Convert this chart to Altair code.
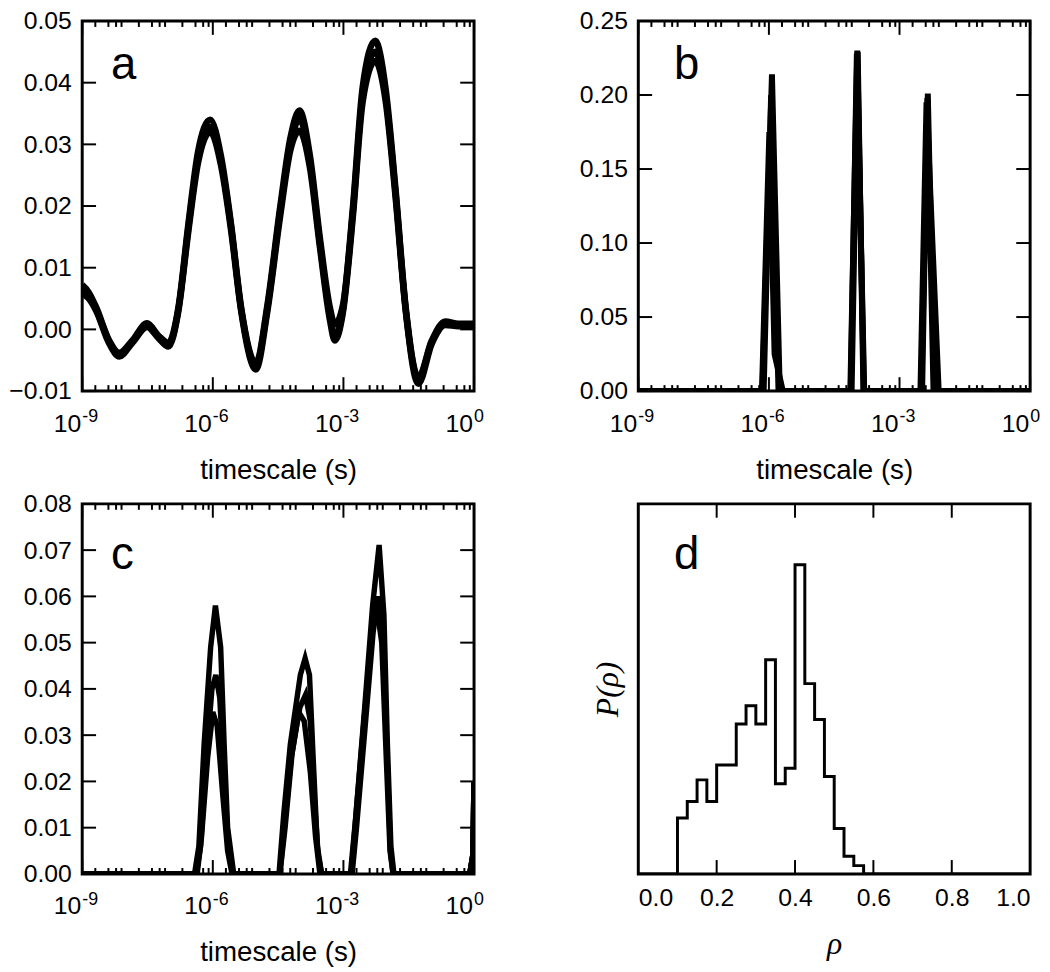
import altair as alt
import pandas as pd

FONT = "Liberation Sans"
SERIF = "Liberation Serif"
W, H = 396, 374

# ---------------- data ----------------
# panel a: three overlapping runs, x given as log10(timescale)
a_logt = [-9.0, -8.85, -8.68, -8.38, -8.15, -7.85, -7.51, -7.25, -7.02, -6.79,
          -6.56, -6.34, -6.06, -5.81, -5.58, -5.35, -5.01, -4.75, -4.45, -4.22,
          -4.01, -3.77, -3.54, -3.31, -3.20, -3.01, -2.78, -2.56, -2.27, -2.03,
          -1.80, -1.57, -1.28, -0.97, -0.66, -0.36, 0.0]
a_run1 = [0.0065, 0.0055, 0.0033, -0.0020, -0.0041, -0.0020, 0.0007, -0.0012, -0.0025, 0.0033,
          0.0166, 0.0278, 0.0328, 0.0272, 0.0166, 0.0033, -0.0059, 0.0033, 0.0193, 0.0299,
          0.0341, 0.0272, 0.0140, 0.0023, -0.0012, 0.0033, 0.0193, 0.0379, 0.0450, 0.0379,
          0.0219, 0.0033, -0.0081, -0.0020, 0.0010, 0.0007, 0.0007]
a_run2 = [0.0072, 0.0060, 0.0036, -0.0018, -0.0038, -0.0018, 0.0010, -0.0010, -0.0022, 0.0036,
          0.0172, 0.0288, 0.0340, 0.0280, 0.0170, 0.0036, -0.0055, 0.0038, 0.0200, 0.0310,
          0.0355, 0.0282, 0.0148, 0.0035, 0.0008, 0.0040, 0.0200, 0.0392, 0.0468, 0.0390,
          0.0225, 0.0036, -0.0078, -0.0018, 0.0013, 0.0009, 0.0009]
a_run3 = [0.0058, 0.0050, 0.0030, -0.0023, -0.0044, -0.0022, 0.0004, -0.0014, -0.0028, 0.0030,
          0.0160, 0.0270, 0.0320, 0.0265, 0.0160, 0.0030, -0.0065, 0.0028, 0.0185, 0.0290,
          0.0322, 0.0262, 0.0133, 0.0015, -0.0018, 0.0028, 0.0185, 0.0368, 0.0435, 0.0370,
          0.0212, 0.0030, -0.0088, -0.0023, 0.0007, 0.0005, 0.0005]

# panel b: narrow spikes
b1_logt = [-9.0, -6.15, -5.93, -5.75, -4.13, -3.97, -3.82, -2.50, -2.35, -2.20, 0.0]
b1_val = [0, 0, 0.214, 0, 0, 0.230, 0, 0, 0.201, 0, 0]
b2_logt = [-9.0, -6.16, -5.99, -5.87, -5.68, -4.12, -3.98, -3.81, -2.52, -2.38, -2.10, 0.0]
b2_val = [0, 0, 0.175, 0.025, 0, 0, 0.228, 0, 0, 0.195, 0, 0]
b3_logt = [-9.0, -6.12, -5.95, -5.78, -4.10, -3.96, -3.83, -2.48, -2.36, -2.22, 0.0]
b3_val = [0, 0, 0.200, 0, 0, 0.229, 0, 0, 0.198, 0, 0]

# panel c: three runs of peaks
c1_logt = [-9.0, -6.42, -6.32, -6.20, -6.05, -5.94, -5.82, -5.74, -5.66, -5.52,
           -4.48, -4.37, -4.22, -3.99, -3.88, -3.78, -3.69, -3.60, -3.50,
           -2.82, -2.71, -2.52, -2.33, -2.18, -2.07, -1.99, -1.91, -1.84,
           -0.10, -0.03, 0.0]
c1_val = [0, 0, 0.006, 0.028, 0.049, 0.058, 0.049, 0.028, 0.010, 0,
          0, 0.013, 0.028, 0.043, 0.0466, 0.043, 0.024, 0.006, 0,
          0, 0.013, 0.035, 0.058, 0.0711, 0.056, 0.028, 0.006, 0,
          0, 0.004, 0.020]
c2_logt = [-9.0, -6.38, -6.28, -6.15, -6.02, -5.93, -5.84, -5.74, -5.64, -5.54,
           -4.46, -4.36, -4.20, -4.00, -3.87, -3.76, -3.68, -3.58, -3.50,
           -2.80, -2.70, -2.50, -2.32, -2.21, -2.10, -2.00, -1.92, -1.86,
           -0.10, -0.03, 0.0]
c2_val = [0, 0, 0.006, 0.025, 0.040, 0.043, 0.038, 0.020, 0.006, 0,
          0, 0.010, 0.025, 0.036, 0.0387, 0.033, 0.018, 0.004, 0,
          0, 0.010, 0.032, 0.052, 0.060, 0.052, 0.026, 0.005, 0,
          0, 0.004, 0.020]
c3_logt = [-9.0, -6.36, -6.26, -6.12, -6.00, -5.90, -5.78, -5.66, -5.56,
           -4.46, -4.34, -4.18, -4.03, -3.90, -3.76, -3.64, -3.54,
           -2.84, -2.72, -2.52, -2.34, -2.24, -2.12, -2.02, -1.93, -1.86,
           -0.10, -0.03, 0.0]
c3_val = [0, 0, 0.008, 0.025, 0.035, 0.032, 0.018, 0.005, 0,
          0, 0.010, 0.026, 0.035, 0.033, 0.022, 0.008, 0,
          0, 0.012, 0.034, 0.052, 0.058, 0.050, 0.026, 0.005, 0,
          0, 0.004, 0.020]

# panel d: histogram P(rho), left bin edges (step-after)
d_rho = [0.0, 0.100, 0.125, 0.150, 0.175, 0.200, 0.225, 0.250, 0.275, 0.300, 0.325,
         0.350, 0.375, 0.400, 0.425, 0.450, 0.475, 0.500, 0.525, 0.550, 0.575, 1.0]
d_p = [0, 1.01, 1.31, 1.70, 1.31, 1.97, 1.97, 2.71, 3.04, 2.71, 3.87,
       1.63, 1.91, 5.59, 3.44, 2.79, 1.76, 0.82, 0.32, 0.15, 0, 0]

# tick labels
x_label_t = [1e-9, 1e-6, 1e-3, 1.0]
x_label_base = ["10", "10", "10", "10"]
x_label_exp = ["-9", "-6", "-3", "0"]
a_yticks = [-0.01, 0.0, 0.01, 0.02, 0.03, 0.04, 0.05]
b_yticks = [0.0, 0.05, 0.10, 0.15, 0.20, 0.25]
c_yticks = [0.0, 0.01, 0.02, 0.03, 0.04, 0.05, 0.06, 0.07, 0.08]
d_xticks = [0.0, 0.2, 0.4, 0.6, 0.8, 1.0]


def runs_frame(pairs):
    rows = []
    for name, logt, vals in pairs:
        for e, v in zip(logt, vals):
            rows.append({"run": name, "t": 10.0 ** e, "v": v})
    return pd.DataFrame(rows)


XS = alt.Scale(type="log", domain=[1e-9, 1.0], nice=False)
major_t = x_label_t
minor_t = [k * 10.0 ** n for n in range(-9, 0) for k in (2, 4, 6, 8)]
MAJ, MIN = 14, 6

X_AXIS_LOG = alt.Axis(
    title="timescale (s)", labels=False, ticks=False, domain=False, grid=False,
    titleFont=FONT, titleFontSize=28, titleFontWeight="normal", titleColor="black",
    titlePadding=88, titleBaseline="alphabetic")


def y_axis(vals):
    return alt.Axis(values=vals, format=".2f", title=None, ticks=False, domain=False,
                    grid=False, labelFont=FONT, labelFontSize=25, labelColor="black",
                    labelPadding=11)


def rule_x(values, length, scale, field, top, axis):
    df = pd.DataFrame({field: values})
    y0, y1 = (0, length) if top else (H, H - length)
    return alt.Chart(df).mark_rule(color="black", strokeWidth=2).encode(
        x=alt.X(f"{field}:Q", scale=scale, axis=axis),
        y=alt.value(y0), y2=alt.value(y1))


def rule_y(values, length, scale, field, right, axis):
    df = pd.DataFrame({field: values})
    x0, x1 = (W, W - length) if right else (0, length)
    return alt.Chart(df).mark_rule(color="black", strokeWidth=2).encode(
        y=alt.Y(f"{field}:Q", scale=scale, axis=axis),
        x=alt.value(x0), x2=alt.value(x1))


def letter(ch, yb):
    df = pd.DataFrame({"lab": [ch]})
    return alt.Chart(df).mark_text(font=FONT, fontSize=46, align="left",
                                   baseline="alphabetic", color="black").encode(
        x=alt.value(29 if ch in "ac" else 36), y=alt.value(yb), text="lab:N")


def log_panel(df, ydom, yticks, ch, yb, sw, interp):
    ys = alt.Scale(domain=ydom, nice=False, zero=False)
    ya = y_axis(yticks)
    lines = alt.Chart(df).mark_line(color="black", strokeWidth=sw, clip=True,
                                    interpolate=interp).encode(
        x=alt.X("t:Q", scale=XS, axis=X_AXIS_LOG),
        y=alt.Y("v:Q", scale=ys, axis=ya),
        detail="run:N")
    lab = pd.DataFrame({"t": x_label_t, "base": x_label_base, "ex": x_label_exp})
    base_txt = alt.Chart(lab).mark_text(font=FONT, fontSize=25, align="right",
                                        baseline="alphabetic", dx=-1, color="black").encode(
        x=alt.X("t:Q", scale=XS, axis=X_AXIS_LOG), y=alt.value(H + 41), text="base:N")
    exp_txt = alt.Chart(lab).mark_text(font=FONT, fontSize=18, align="left",
                                       baseline="alphabetic", dx=0, color="black").encode(
        x=alt.X("t:Q", scale=XS, axis=X_AXIS_LOG), y=alt.value(H + 31), text="ex:N")
    layers = [lines,
              rule_x(major_t, MAJ, XS, "t", False, X_AXIS_LOG),
              rule_x(major_t, MAJ, XS, "t", True, X_AXIS_LOG),
              rule_x(minor_t, MIN, XS, "t", False, X_AXIS_LOG),
              rule_x(minor_t, MIN, XS, "t", True, X_AXIS_LOG),
              rule_y(yticks, MAJ, ys, "v", False, ya),
              rule_y(yticks, MAJ, ys, "v", True, ya),
              base_txt, exp_txt, letter(ch, yb)]
    return alt.layer(*layers).properties(width=W, height=H)


df_a = runs_frame([("1", a_logt, a_run1), ("2", a_logt, a_run2), ("3", a_logt, a_run3)])
df_b = runs_frame([("1", b1_logt, b1_val), ("2", b2_logt, b2_val), ("3", b3_logt, b3_val)])
df_c = runs_frame([("1", c1_logt, c1_val), ("2", c2_logt, c2_val), ("3", c3_logt, c3_val)])

pa = log_panel(df_a, [-0.01, 0.05], a_yticks, "a", 59, 6.5, "monotone")
pb = log_panel(df_b, [0.0, 0.25], b_yticks, "b", 59, 6, "linear")
pc = log_panel(df_c, [0.0, 0.08], c_yticks, "c", 66, 5.5, "linear")

# panel d
DX = alt.Scale(domain=[0, 1], nice=False)
DY = alt.Scale(domain=[0, 6.69], nice=False)
D_XAXIS = alt.Axis(
    values=d_xticks, format=".1f", title="ρ", ticks=False, domain=False, grid=False,
    labelFont=FONT, labelFontSize=25, labelColor="black", labelPadding=12,
    titleFont=SERIF, titleFontStyle="italic", titleFontWeight="normal",
    titleFontSize=32, titleColor="black", titlePadding=18)
D_YAXIS = alt.Axis(
    labels=False, ticks=False, domain=False, grid=False, title="P(ρ)",
    titleFont=SERIF, titleFontStyle="italic", titleFontWeight="normal",
    titleFontSize=32, titleColor="black", titlePadding=14)
df_d = pd.DataFrame({"x": d_rho, "p": d_p})
hist = alt.Chart(df_d).mark_line(color="black", strokeWidth=3, interpolate="step-after",
                                 clip=True).encode(
    x=alt.X("x:Q", scale=DX, axis=D_XAXIS),
    y=alt.Y("p:Q", scale=DY, axis=D_YAXIS))
pd_ = alt.layer(
    hist,
    rule_x([0.2, 0.4, 0.6, 0.8], MAJ, DX, "x", False, D_XAXIS),
    rule_x([0.2, 0.4, 0.6, 0.8], MAJ, DX, "x", True, D_XAXIS),
    letter("d", 66),
).properties(width=W, height=H)

chart = alt.concat(pa, pb, pc, pd_, columns=2, spacing={"row": 4, "column": 92}).properties(
    padding={"left": -1, "top": -6, "right": 0, "bottom": 0},
    background="white",
).configure_view(stroke="black", strokeWidth=3)

chart.save("out.html", embed_options={"renderer": "svg", "actions": False})
